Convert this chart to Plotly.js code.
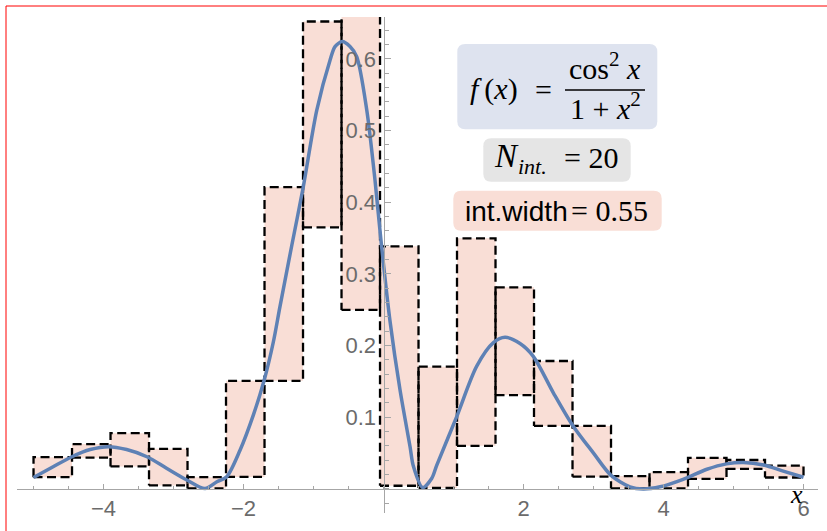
<!DOCTYPE html>
<html>
<head>
<meta charset="utf-8">
<script src="https://cdn.plot.ly/plotly-3.0.1.min.js"></script>
<style>html,body{margin:0;padding:0;background:#fff}#chart{width:827px;height:531px}</style>
</head>
<body>
<div id="chart"></div>
<script>
// ---- data ----
const intervalLeft = [-5.0, -4.45, -3.9, -3.35, -2.8, -2.25, -1.7, -1.15, -0.6, -0.05,
                      0.5, 1.05, 1.6, 2.15, 2.7, 3.25, 3.8, 4.35, 4.9, 5.45];
const intervalWidth = 0.55;
const boxUpper = [0.0444, 0.0627, 0.0778, 0.0560, 0.0165, 0.1508, 0.4210, 0.6520, 0.7000, 0.3385,
                  0.1706, 0.3496, 0.2813, 0.1785, 0.0879, 0.0180, 0.0235, 0.0435, 0.0404, 0.0325];
const boxLower = [0.0165, 0.0437, 0.0315, 0.0050, 0.0008, 0.0168, 0.1508, 0.3650, 0.2497, 0.0045,
                  0.0015, 0.0602, 0.1310, 0.0879, 0.0172, 0.0008, 0.0008, 0.0140, 0.0280, 0.0160];

const curveX = [-5.0, -4.72, -4.45, -4.19, -3.93, -3.67, -3.38, -3.10, -2.81, -2.55, -2.38, -2.24,
                -2.05, -1.86, -1.707, -1.574, -1.48, -1.31, -1.146, -0.954, -0.764, -0.693, -0.589,
                -0.479, -0.383, -0.24, -0.121, -0.04, 0.093, 0.236, 0.379, 0.426, 0.56, 0.69, 0.76,
                1.046, 1.33, 1.57, 1.736, 1.95, 2.14, 2.43, 2.70, 3.0, 3.25, 3.52, 3.71, 3.95, 4.28,
                4.62, 4.90, 5.14, 5.43, 5.71, 6.0];
const curveY = [0.016, 0.031, 0.045, 0.055, 0.059, 0.055, 0.045, 0.029, 0.0126, 0.0005, 0.010, 0.017,
                0.054, 0.103, 0.151, 0.205, 0.254, 0.340, 0.4216, 0.528, 0.598, 0.617, 0.624,
                0.617, 0.603, 0.529, 0.430, 0.350, 0.234, 0.138, 0.059, 0.032, 0.002, 0.015, 0.033,
                0.101, 0.171, 0.204, 0.2115, 0.203, 0.185, 0.1335, 0.089, 0.050, 0.019, 0.003, 0.0, 0.003, 0.0135,
                0.0275, 0.035, 0.037, 0.0335, 0.025, 0.0163];

const xTickVals = [-4, -2, 2, 4, 6];
const xTickText = ['\u22124', '\u22122', '2', '4', '6'];
const yTickVals = [0.1, 0.2, 0.3, 0.4, 0.5, 0.6];
const yTickText = ['0.1', '0.2', '0.3', '0.4', '0.5', '0.6'];

// ---- build rectangle polygons from the data ----
const bx = [], by = [];
for (let i = 0; i < intervalLeft.length; i++) {
  const x0 = intervalLeft[i], x1 = intervalLeft[i] + intervalWidth;
  bx.push(x0, x1, x1, x0, x0, null);
  by.push(boxLower[i], boxLower[i], boxUpper[i], boxUpper[i], boxLower[i], null);
}

// ---- pixel -> paper helpers (layout only) ----
const L = 17, R = 818, T = 17, B = 513;
const px = v => (v - L) / (R - L);
const py = v => (B - v) / (B - T);

function rr(x0, y0, x1, y1, r, color) {
  const rx = r / (R - L), ry = r / (B - T);
  const a = px(x0), b = px(x1), c = py(y1), d = py(y0);
  const path = `M ${a + rx},${d} L ${b - rx},${d} Q ${b},${d} ${b},${d - ry} L ${b},${c + ry} Q ${b},${c} ${b - rx},${c} L ${a + rx},${c} Q ${a},${c} ${a},${c + ry} L ${a},${d - ry} Q ${a},${d} ${a + rx},${d} Z`;
  return {type: 'path', xref: 'paper', yref: 'paper', path: path, fillcolor: color, line: {width: 0}, layer: 'above'};
}

const SERIF = 'Liberation Serif, Times New Roman, serif';
const SANS = 'Liberation Sans, Arial, sans-serif';
function txt(text, x, baseline, size, family, xanchor) {
  return {
    text: text, xref: 'paper', yref: 'paper', x: px(x), y: py(baseline + 0.215 * size + 1),
    xanchor: xanchor || 'left', yanchor: 'bottom', showarrow: false,
    font: {family: family, size: size, color: '#000'}, borderpad: 1
  };
}

const traces = [
  {
    x: bx, y: by, type: 'scatter', mode: 'lines', fill: 'toself',
    fillcolor: '#f9ded6', line: {color: '#000', width: 2.3, dash: '9px,4.5px'},
    hoverinfo: 'skip', showlegend: false
  },
  {
    x: curveX, y: curveY, type: 'scatter', mode: 'lines',
    line: {color: '#5e81b5', width: 3.5, shape: 'spline', smoothing: 0.8},
    hoverinfo: 'skip', showlegend: false
  }
];

const axisGray = '#a6a6a6';
const layout = {
  width: 827, height: 531,
  margin: {l: L, r: 827 - R, t: T, b: 531 - B, pad: 0},
  paper_bgcolor: '#fff', plot_bgcolor: '#fff',
  font: {family: SANS},
  showlegend: false,
  xaxis: {
    range: [-5.236, 6.207], anchor: 'free', position: py(489),
    showline: true, linecolor: axisGray, linewidth: 1, zeroline: false, showgrid: false,
    tickmode: 'array', tickvals: xTickVals, ticktext: xTickText,
    ticks: 'inside', ticklen: 5, tickwidth: 1, tickcolor: axisGray,
    tickfont: {family: SANS, size: 22, color: '#6b6b6b'},
    minor: {tickmode: 'linear', tick0: 0, dtick: 0.5, ticks: 'inside', ticklen: 3, tickcolor: axisGray, showgrid: false},
    layer: 'above traces', fixedrange: true
  },
  yaxis: {
    range: [-0.0335, 0.6583], anchor: 'free', position: px(383.5),
    showline: true, linecolor: axisGray, linewidth: 1, zeroline: false, showgrid: false,
    tickmode: 'array', tickvals: yTickVals, ticktext: yTickText,
    ticks: 'inside', ticklen: 6, tickwidth: 1, tickcolor: axisGray,
    tickfont: {family: SANS, size: 22, color: '#6b6b6b'},
    ticklabelstandoff: 3,
    minor: {tickmode: 'linear', tick0: 0, dtick: 0.02, ticks: 'inside', ticklen: 4, tickcolor: axisGray, showgrid: false},
    layer: 'above traces', fixedrange: true
  },
  shapes: [
    rr(457.3, 44, 657.3, 129.3, 8, '#dee3ef'),
    rr(483.3, 138.3, 630.7, 181.7, 8, '#e5e5e5'),
    rr(453.3, 190.7, 661.7, 230.7, 8, '#f9ded6'),
    {type: 'line', xref: 'paper', yref: 'paper', x0: px(565), x1: px(645), y0: py(90), y1: py(90),
     line: {color: '#000', width: 1.4}, layer: 'above'},
    {type: 'line', xref: 'paper', yref: 'paper', x0: px(6), x1: px(6), y0: py(6), y1: py(531),
     line: {color: '#ff0000', width: 1}, layer: 'above'},
    {type: 'line', xref: 'paper', yref: 'paper', x0: px(6), x1: px(827), y0: py(6), y1: py(6),
     line: {color: '#ff0000', width: 1}, layer: 'above'}
  ],
  annotations: [
    txt('<i>f</i>\u2009(<i>x</i>)', 468, 101, 30, SERIF, 'left'),
    txt('=', 533, 101, 30, SERIF, 'left'),
    txt('cos<sup>2</sup> <i>x</i>', 605, 80, 30, SERIF, 'center'),
    txt('1 + <i>x</i><sup>2</sup>', 605, 119.3, 30, SERIF, 'center'),
    txt('<i>N</i>', 492, 168.3, 33, SERIF, 'left'),
    txt('<i>int.</i>', 516, 175, 22, SERIF, 'left'),
    txt('= 20', 561.7, 168.3, 30, SERIF, 'left'),
    txt('int.width', 462.7, 221.7, 28, SANS, 'left'),
    txt('= 0.55', 569.3, 221.7, 30, SERIF, 'left'),
    {text: '<i>x</i>', xref: 'paper', yref: 'paper', x: px(796), y: py(494), xanchor: 'center', yanchor: 'middle',
     showarrow: false, font: {family: SERIF, size: 26, color: '#000'}}
  ]
};

Plotly.newPlot('chart', traces, layout, {displayModeBar: false, staticPlot: true});
</script>
</body>
</html>
